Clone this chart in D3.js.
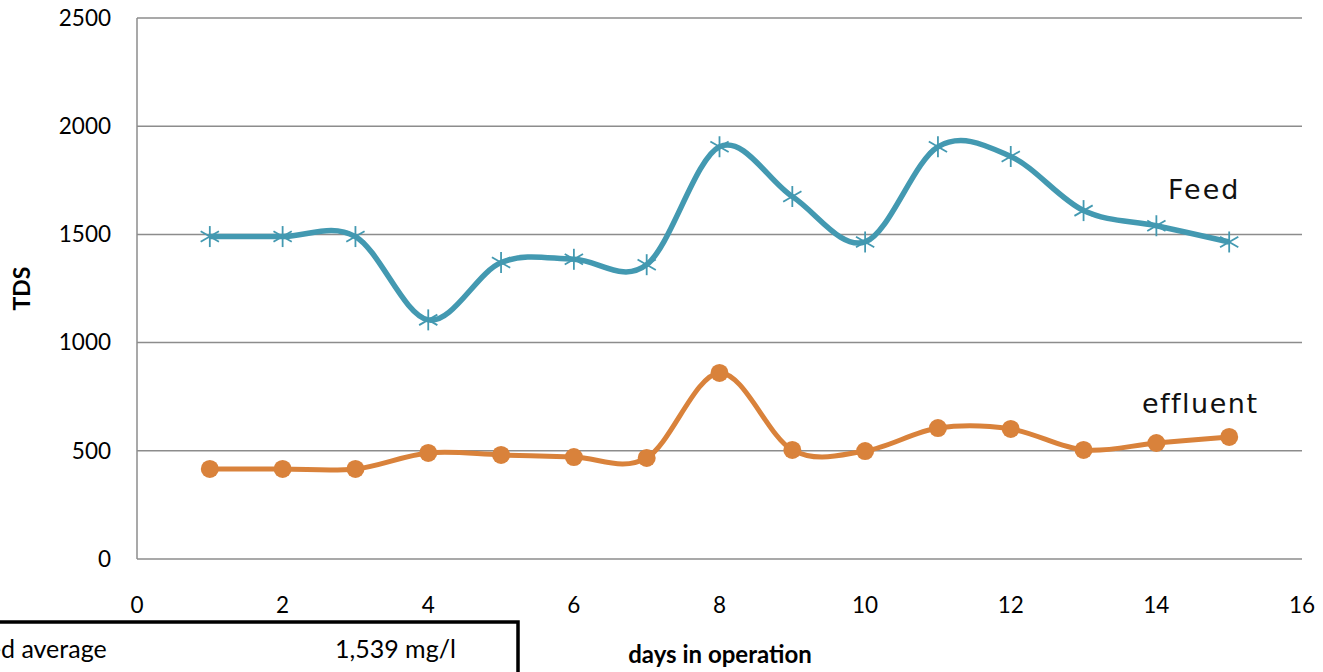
<!DOCTYPE html>
<html><head><meta charset="utf-8">
<script src="https://cdn.jsdelivr.net/npm/d3@7/dist/d3.min.js"></script>
<style>body{margin:0;background:#fff;overflow:hidden}svg{display:block}</style>
</head><body>
<script>
const days = [1,2,3,4,5,6,7,8,9,10,11,12,13,14,15];
const feed = [1490,1490,1490,1105,1370,1385,1360,1905,1675,1465,1905,1860,1610,1540,1465];
const effluent = [416,416,416,490,481,471,467,860,504,499,605,601,504,536,564];
const xTicks = [0,2,4,6,8,10,12,14,16];
const yTicks = [0,500,1000,1500,2000,2500];
const seriesNames = ["Feed","effluent"];
const boxLabel = "Feed average";
const boxValue = "1,539 mg/l";

const W=1323,H=672;
const svg=d3.select("body").append("svg").attr("width",W).attr("height",H);
const x=d3.scaleLinear().domain([0,16]).range([137,1302]);
const y=d3.scaleLinear().domain([0,2500]).range([559,18]);
const font="Lato, 'Open Sans', sans-serif";

svg.append("g").selectAll("line").data(yTicks.filter(d=>d>0)).join("line")
 .attr("x1",x(0)).attr("x2",x(16)).attr("y1",d=>y(d)).attr("y2",d=>y(d))
 .attr("stroke","#8c8c8c").attr("stroke-width",1.5);
svg.append("line").attr("x1",x(0)).attr("x2",x(16)).attr("y1",y(0)).attr("y2",y(0)).attr("stroke","#8c8c8c").attr("stroke-width",1.5);
svg.append("line").attr("x1",x(0)).attr("x2",x(0)).attr("y1",y(0)).attr("y2",y(2500)).attr("stroke","#8c8c8c").attr("stroke-width",1.5);

svg.append("g").selectAll("text").data(yTicks).join("text")
 .attr("x",111).attr("y",d=>y(d)).attr("dy","0.35em").attr("text-anchor","end")
 .attr("font-family",font).attr("font-size",22.5).attr("fill","#000").text(d=>d);
svg.append("g").selectAll("text").data(xTicks).join("text")
 .attr("x",d=>x(d)).attr("y",605).attr("dy","0.35em").attr("text-anchor","middle")
 .attr("font-family",font).attr("font-size",22.5).attr("fill","#000").text(d=>d);

svg.append("text").attr("transform",`translate(30,${y(1250)}) rotate(-90)`).attr("text-anchor","middle")
 .attr("font-family",font).attr("font-weight","bold").attr("font-size",23).text("TDS");
svg.append("text").attr("x",720).attr("y",655).attr("dy","0.35em").attr("text-anchor","middle")
 .attr("font-family",font).attr("font-weight","bold").attr("font-size",24).text("days in operation");

const line=d3.line().x((d,i)=>x(days[i])).y(d=>y(d)).curve(d3.curveCardinal.tension(0));
const cFeed="#4399b1", cEff="#d9823b";

svg.append("path").attr("d",line(feed)).attr("fill","none").attr("stroke",cFeed).attr("stroke-width",5.5);
svg.append("path").attr("d",line(effluent)).attr("fill","none").attr("stroke",cEff).attr("stroke-width",5);

const r=10.5;
const gF=svg.append("g").selectAll("g").data(feed).join("g")
 .attr("transform",(d,i)=>`translate(${x(days[i])},${y(d)})`)
 .attr("stroke",cFeed).attr("stroke-width",1.8);
[[0,1],[0.87,0.5],[-0.87,0.5]].forEach(([a,b])=>{
  gF.append("line").attr("x1",-a*r).attr("y1",-b*r).attr("x2",a*r).attr("y2",b*r);
});
svg.append("g").selectAll("circle").data(effluent).join("circle")
 .attr("cx",(d,i)=>x(days[i])).attr("cy",d=>y(d)).attr("r",9).attr("fill",cEff);

svg.append("text").attr("x",1168).attr("y",190).attr("dy","0.35em").attr("font-family","'DejaVu Sans', sans-serif")
 .attr("font-size",27).attr("letter-spacing",2).attr("fill","#111").text(seriesNames[0]);
svg.append("text").attr("x",1142).attr("y",404).attr("dy","0.35em").attr("font-family","'DejaVu Sans', sans-serif")
 .attr("font-size",27).attr("letter-spacing",1.5).attr("fill","#111").text(seriesNames[1]);

svg.append("rect").attr("x",-20).attr("y",622).attr("width",538).attr("height",80)
 .attr("fill","#fff").attr("stroke","#000").attr("stroke-width",3.5);
const bl=svg.append("text").attr("y",649).attr("dy","0.35em").attr("font-family",font)
 .attr("font-size",25).text(boxLabel);
const tmp=svg.append("text").attr("font-family",font).attr("font-size",25).text("Fee");
const off=tmp.node().getComputedTextLength(); tmp.remove();
bl.attr("x",-off+1);
svg.append("text").attr("x",335).attr("y",649).attr("dy","0.35em").attr("font-family",font)
 .attr("font-size",25).text(boxValue);
</script>
</body></html>
